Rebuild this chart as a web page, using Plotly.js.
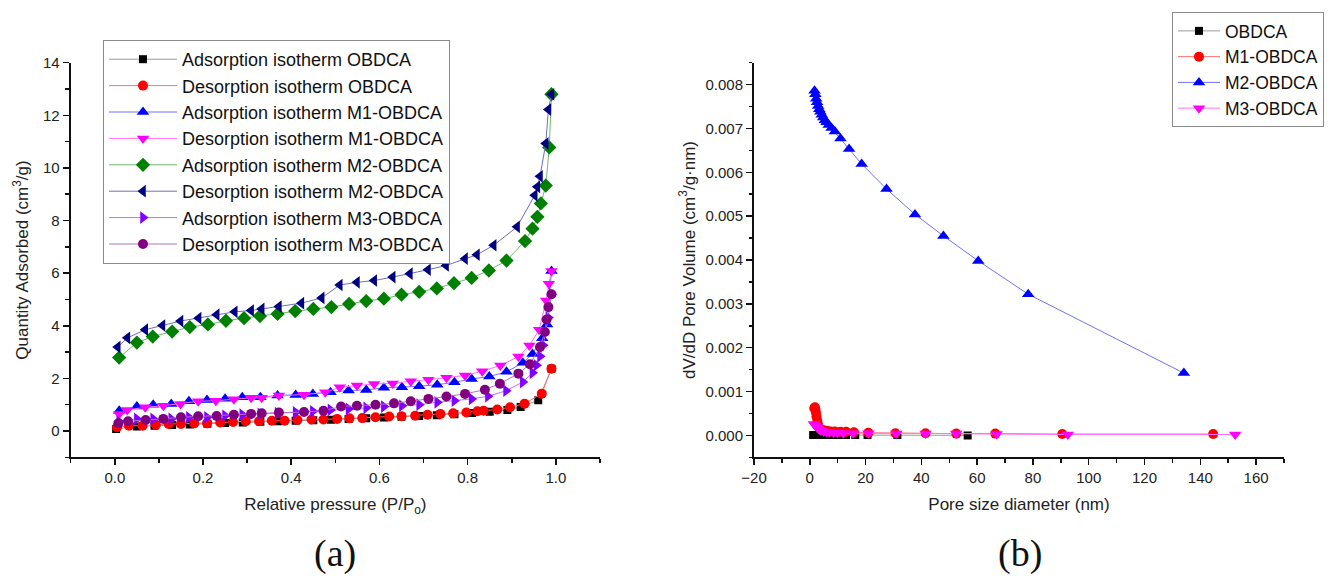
<!DOCTYPE html>
<html>
<head>
<meta charset="utf-8">
<script src="https://cdn.plot.ly/plotly-3.0.1.min.js"></script>
<style>html,body{margin:0;padding:0;background:#fff;}#chart{width:1339px;height:576px;}</style>
</head>
<body>
<div id="chart"></div>
<script>
// ---- Panel (a): N2 isotherms ----
const adsOBDCA_x = [0.003, 0.05, 0.09, 0.13, 0.17, 0.21, 0.25, 0.29, 0.33, 0.37, 0.41, 0.45, 0.49, 0.53, 0.57, 0.61, 0.65, 0.69, 0.73, 0.77, 0.81, 0.85, 0.89, 0.92, 0.96, 0.99];
const adsOBDCA_y = [0.08, 0.17, 0.20, 0.23, 0.25, 0.28, 0.30, 0.32, 0.35, 0.37, 0.39, 0.41, 0.43, 0.46, 0.48, 0.51, 0.54, 0.57, 0.60, 0.64, 0.68, 0.73, 0.80, 0.91, 1.17, 2.37];

const desOBDCA_x = [0.99, 0.968, 0.929, 0.896, 0.867, 0.836, 0.822, 0.797, 0.767, 0.738, 0.709, 0.681, 0.650, 0.622, 0.591, 0.561, 0.532, 0.504, 0.473, 0.446, 0.414, 0.385, 0.356, 0.327, 0.297, 0.268, 0.239, 0.209, 0.180, 0.150, 0.122, 0.093, 0.063, 0.032, 0.005];
const desOBDCA_y = [2.37, 1.42, 1.04, 0.90, 0.82, 0.77, 0.75, 0.70, 0.67, 0.65, 0.62, 0.58, 0.56, 0.55, 0.52, 0.49, 0.48, 0.46, 0.44, 0.44, 0.42, 0.39, 0.39, 0.37, 0.37, 0.34, 0.32, 0.29, 0.29, 0.27, 0.27, 0.24, 0.20, 0.20, 0.14];

const adsM1_x = [0.01, 0.05, 0.087, 0.128, 0.168, 0.209, 0.25, 0.289, 0.33, 0.369, 0.41, 0.449, 0.489, 0.53, 0.57, 0.61, 0.651, 0.69, 0.731, 0.77, 0.809, 0.849, 0.888, 0.925, 0.947, 0.969, 0.98, 0.99];
const adsM1_y = [0.77, 0.93, 1.00, 1.03, 1.13, 1.18, 1.23, 1.28, 1.28, 1.35, 1.37, 1.41, 1.47, 1.54, 1.56, 1.64, 1.66, 1.70, 1.76, 1.85, 1.98, 2.07, 2.25, 2.59, 2.93, 3.53, 4.05, 6.08];

const desM1_x = [0.99, 0.984, 0.978, 0.962, 0.940, 0.915, 0.874, 0.833, 0.794, 0.752, 0.711, 0.671, 0.630, 0.588, 0.549, 0.510, 0.477, 0.429, 0.372, 0.333, 0.309, 0.270, 0.229, 0.189, 0.149, 0.110, 0.069, 0.028, 0.0098];
const desM1_y = [6.08, 5.60, 4.96, 3.85, 3.25, 2.83, 2.49, 2.27, 2.11, 2.02, 1.95, 1.89, 1.81, 1.79, 1.73, 1.66, 1.47, 1.38, 1.35, 1.26, 1.26, 1.21, 1.15, 1.13, 1.03, 0.96, 0.90, 0.80, 0.65];

const adsM2_x = [0.0098, 0.05, 0.086, 0.13, 0.17, 0.211, 0.252, 0.293, 0.329, 0.369, 0.409, 0.45, 0.491, 0.531, 0.57, 0.61, 0.65, 0.69, 0.73, 0.769, 0.809, 0.848, 0.888, 0.93, 0.947, 0.958, 0.966, 0.977, 0.985, 0.99];
const adsM2_y = [2.79, 3.36, 3.59, 3.78, 3.95, 4.05, 4.19, 4.29, 4.37, 4.45, 4.56, 4.64, 4.71, 4.83, 4.94, 5.03, 5.18, 5.29, 5.42, 5.62, 5.82, 6.10, 6.48, 7.22, 7.69, 8.14, 8.65, 9.33, 10.78, 12.8];

const desM2_x = [0.99, 0.983, 0.977, 0.964, 0.958, 0.952, 0.912, 0.859, 0.821, 0.794, 0.751, 0.710, 0.669, 0.630, 0.588, 0.549, 0.510, 0.469, 0.423, 0.372, 0.333, 0.309, 0.272, 0.231, 0.190, 0.149, 0.108, 0.069, 0.0285, 0.0066];
const desM2_y = [12.8, 12.22, 10.93, 9.68, 9.28, 8.96, 7.76, 7.06, 6.70, 6.55, 6.29, 6.13, 5.98, 5.85, 5.72, 5.65, 5.55, 5.06, 4.86, 4.73, 4.64, 4.58, 4.53, 4.42, 4.29, 4.18, 4.01, 3.85, 3.54, 3.19];

const adsM3_x = [0.01, 0.05, 0.087, 0.128, 0.168, 0.209, 0.25, 0.289, 0.33, 0.369, 0.41, 0.449, 0.489, 0.53, 0.57, 0.61, 0.651, 0.69, 0.731, 0.77, 0.809, 0.846, 0.887, 0.925, 0.947, 0.956, 0.964, 0.971, 0.983, 0.99];
const adsM3_y = [0.35, 0.46, 0.46, 0.46, 0.52, 0.52, 0.58, 0.62, 0.65, 0.68, 0.71, 0.75, 0.80, 0.84, 0.88, 0.93, 0.96, 1.00, 1.09, 1.15, 1.22, 1.32, 1.53, 1.86, 2.21, 2.50, 2.84, 3.26, 4.31, 5.20];

const desM3_x = [0.99, 0.983, 0.979, 0.975, 0.964, 0.941, 0.915, 0.873, 0.839, 0.794, 0.752, 0.711, 0.671, 0.633, 0.591, 0.549, 0.513, 0.473, 0.429, 0.372, 0.333, 0.309, 0.270, 0.231, 0.189, 0.150, 0.110, 0.070, 0.030, 0.008];
const desM3_y = [5.20, 4.71, 4.24, 3.76, 3.19, 2.54, 2.18, 1.80, 1.57, 1.41, 1.31, 1.22, 1.13, 1.05, 1.00, 0.96, 0.93, 0.77, 0.72, 0.70, 0.67, 0.65, 0.62, 0.57, 0.56, 0.52, 0.46, 0.42, 0.37, 0.29];

const isoNames = ["Adsorption isotherm OBDCA", "Desorption isotherm OBDCA", "Adsorption isotherm M1-OBDCA", "Desorption isotherm M1-OBDCA",
                  "Adsorption isotherm M2-OBDCA", "Desorption isotherm M2-OBDCA", "Adsorption isotherm M3-OBDCA", "Desorption isotherm M3-OBDCA"];

// ---- Panel (b): pore size distribution ----
const psdOBDCA_x = [1.2, 1.6, 2.0, 2.5, 3.0, 3.6, 4.3, 5.1, 6.1, 7.3, 8.8, 10.6, 13.0, 16.3, 20.7, 31.4, 56.6];
const psdOBDCA_y = [0.00001, 0.00001, 0.00001, 0.00001, 0.00001, 0.00001, 0.00001, 0.00001, 0.00001, 0.00001, 0.00001, 0.00001, 0.00001, 0.00001, 0.00001, 0.00001, 0.00000];

const psdM1_x = [1.6, 1.8, 2.0, 2.2, 2.4, 2.7, 3.0, 3.4, 3.9, 4.5, 5.3, 6.3, 7.5, 9.0, 11.0, 13.0, 15.8, 21.0, 30.7, 41.5, 52.5, 66.5, 90.5, 144.6];
const psdM1_y = [0.00062, 0.00064, 0.00060, 0.00052, 0.00043, 0.00033, 0.00024, 0.00018, 0.00014, 0.00012, 0.00011, 0.00010, 0.00009, 0.00009, 0.00008, 0.00008, 0.00007, 0.00006, 0.00005, 0.00005, 0.00004, 0.00004, 0.00003, 0.00003];

const psdM2_x = [1.7, 2.0, 2.3, 2.6, 3.0, 3.4, 3.8, 4.3, 4.8, 5.4, 6.0, 6.8, 7.8, 9.0, 11.0, 14.1, 18.6, 27.5, 37.7, 47.9, 60.4, 78.3, 134.1];
const psdM2_y = [0.00786, 0.00778, 0.00768, 0.00760, 0.00751, 0.00744, 0.00738, 0.00731, 0.00725, 0.00719, 0.00714, 0.00708, 0.00701, 0.00693, 0.00677, 0.00653, 0.00619, 0.00562, 0.00504, 0.00455, 0.00398, 0.00322, 0.00142];

const psdM3_x = [1.5, 2.0, 2.5, 3.0, 3.5, 4.0, 5.0, 6.0, 7.0, 8.5, 10.0, 12.0, 15.5, 21.0, 31.0, 41.5, 52.5, 67.0, 92.5, 152.5];
const psdM3_y = [0.00026, 0.00022, 0.00019, 0.00016, 0.00013, 0.00011, 0.00009, 0.00008, 0.00007, 0.00006, 0.00006, 0.00005, 0.00005, 0.00005, 0.00004, 0.00004, 0.00004, 0.00003, 0.00002, 0.00002];

const psdNames = ["OBDCA", "M1-OBDCA", "M2-OBDCA", "M3-OBDCA"];

// ---- styles ----
const FONT = "Liberation Sans, Arial, sans-serif";
function tr(x, y, name, color, lineColor, symbol, size, xa, ya, leg) {
  return {x: x, y: y, name: name, type: 'scatter', mode: 'lines+markers',
          xaxis: xa, yaxis: ya, legend: leg,
          line: {color: lineColor, width: 1},
          marker: {color: color, symbol: symbol, size: size, line: {width: 0}}};
}

const data = [
  tr(adsOBDCA_x, adsOBDCA_y, isoNames[0], '#000000', '#9a9a9a', 'square', 8, 'x', 'y', 'legend'),
  tr(desOBDCA_x, desOBDCA_y, isoNames[1], '#ff0000', '#ff7070', 'circle', 10, 'x', 'y', 'legend'),
  tr(adsM1_x, adsM1_y, isoNames[2], '#0000ff', '#7070ff', 'triangle-up', 11, 'x', 'y', 'legend'),
  tr(desM1_x, desM1_y, isoNames[3], '#ff00ff', '#ff70ff', 'triangle-down', 11, 'x', 'y', 'legend'),
  tr(adsM2_x, adsM2_y, isoNames[4], '#008000', '#70b870', 'diamond', 11, 'x', 'y', 'legend'),
  tr(desM2_x, desM2_y, isoNames[5], '#000080', '#7070b8', 'triangle-left', 11, 'x', 'y', 'legend'),
  tr(adsM3_x, adsM3_y, isoNames[6], '#8000ff', '#b870ff', 'triangle-right', 11, 'x', 'y', 'legend'),
  tr(desM3_x, desM3_y, isoNames[7], '#800080', '#b870b8', 'circle', 10, 'x', 'y', 'legend'),
  tr(psdOBDCA_x, psdOBDCA_y, psdNames[0], '#000000', '#9a9a9a', 'square', 8, 'x2', 'y2', 'legend2'),
  tr(psdM1_x, psdM1_y, psdNames[1], '#ff0000', '#ff7070', 'circle', 10, 'x2', 'y2', 'legend2'),
  tr(psdM2_x, psdM2_y, psdNames[2], '#0000ff', '#7070ff', 'triangle-up', 11, 'x2', 'y2', 'legend2'),
  tr(psdM3_x, psdM3_y, psdNames[3], '#ff00ff', '#ff70ff', 'triangle-down', 11, 'x2', 'y2', 'legend2')
];

const W = 1339, H = 576;
const yTop = 1 - 62.7 / H, yBot = 1 - 457.3 / H;

function axis(extra) {
  return Object.assign({
    showline: true, linecolor: '#111', linewidth: 2, mirror: false,
    showgrid: false, zeroline: false,
    ticks: 'outside', ticklen: 6, tickwidth: 1.5, tickcolor: '#111',
    tickfont: {family: FONT, size: 15, color: '#222'},
    automargin: false, fixedrange: true
  }, extra);
}

const layout = {
  width: W, height: H,
  margin: {l: 0, r: 0, t: 0, b: 0},
  paper_bgcolor: '#fff', plot_bgcolor: '#fff',
  font: {family: FONT, color: '#222'},
  xaxis: axis({domain: [70.7 / W, 600 / W], range: [-0.1, 1.1], tick0: 0, dtick: 0.2, tickformat: '.1f',
    minor: {ticks: 'outside', ticklen: 3.5, tickwidth: 1.5, tickcolor: '#111', dtick: 0.1, tick0: 0},
    title: {text: 'Relative pressure (P/P<sub>o</sub>)', font: {family: FONT, size: 17, color: '#222'}, standoff: 13},
    anchor: 'y'}),
  yaxis: axis({domain: [yBot, yTop], range: [-1, 14], tick0: 0, dtick: 2,
    minor: {ticks: 'outside', ticklen: 3.5, tickwidth: 1.5, tickcolor: '#111', dtick: 1, tick0: 0},
    title: {text: 'Quantity Adsorbed (cm<sup>3</sup>/g)', font: {family: FONT, size: 17, color: '#222'}, standoff: 10},
    anchor: 'x'}),
  xaxis2: axis({domain: [754 / W, 1284 / W], range: [-20, 170], tick0: 0, dtick: 20,
    minor: {ticks: 'outside', ticklen: 3.5, tickwidth: 1.5, tickcolor: '#111', dtick: 10, tick0: 0},
    title: {text: 'Pore size diameter (nm)', font: {family: FONT, size: 17, color: '#222'}, standoff: 13},
    anchor: 'y2'}),
  yaxis2: axis({domain: [yBot, yTop], range: [-0.0005, 0.0085], tick0: 0, dtick: 0.001, tickformat: '.3f',
    minor: {ticks: 'outside', ticklen: 3.5, tickwidth: 1.5, tickcolor: '#111', dtick: 0.0005, tick0: 0},
    title: {text: 'dV/dD Pore Volume (cm<sup>3</sup>/g·nm)', font: {family: FONT, size: 17, color: '#222'}, standoff: 6},
    anchor: 'x2'}),
  legend: {x: 103 / W, y: 1 - 40 / H, xanchor: 'left', yanchor: 'top',
    bgcolor: '#fff', bordercolor: '#8a8a8a', borderwidth: 1,
    font: {family: FONT, size: 18, color: '#111'}, itemwidth: 68, tracegroupgap: 0},
  legend2: {x: 1172 / W, y: 1 - 12 / H, xanchor: 'left', yanchor: 'top',
    bgcolor: '#fff', bordercolor: '#8a8a8a', borderwidth: 1,
    font: {family: FONT, size: 17.5, color: '#111'}, itemwidth: 42, tracegroupgap: 0},
  annotations: [
    {text: '(a)', xref: 'paper', yref: 'paper', x: 335 / W, y: 1 - 553 / H, xanchor: 'center', yanchor: 'middle',
     showarrow: false, font: {family: 'Liberation Serif, Times New Roman, serif', size: 38, color: '#111'}},
    {text: '(b)', xref: 'paper', yref: 'paper', x: 1020 / W, y: 1 - 553 / H, xanchor: 'center', yanchor: 'middle',
     showarrow: false, font: {family: 'Liberation Serif, Times New Roman, serif', size: 38, color: '#111'}}
  ],
  showlegend: true
};

Plotly.newPlot('chart', data, layout, {displayModeBar: false, staticPlot: true});
</script>
</body>
</html>
